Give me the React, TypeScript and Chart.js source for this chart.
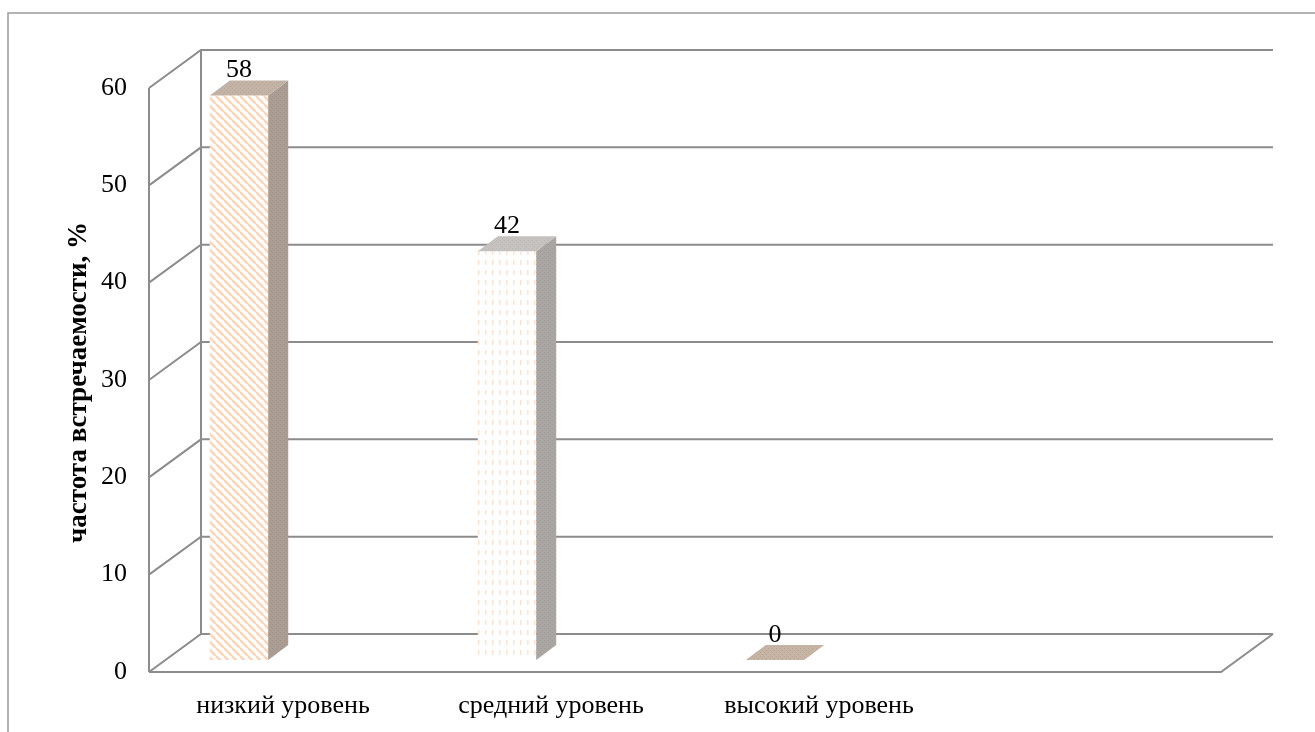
import React, { useEffect, useRef } from 'react';
import { Chart, registerables } from 'chart.js';

Chart.register(...registerables);

const categories = ['низкий уровень', 'средний уровень', 'высокий уровень', ''];
const values: (number | null)[] = [58, 42, 0, null];
const yMin = 0;
const yMax = 60;
const yStep = 10;
const yTitle = 'частота встречаемости, %';

const FONT = "'Liberation Serif', 'Times New Roman', serif";
const GRID = '#8c8c8c';
const DX = 52;
const DY = -38;
const BAR_DX = 20;
const BAR_DY = -15;
const SHIFT_X = -44;
const SHIFT_Y = -12;

function makePattern(kind: string): CanvasPattern | string {
  const c = document.createElement('canvas');
  const ctx = c.getContext('2d');
  if (!ctx) return '#fff';
  if (kind === 'stripes') {
    c.width = 8; c.height = 8;
    ctx.fillStyle = '#ffffff';
    ctx.fillRect(0, 0, 8, 8);
    ctx.strokeStyle = '#fcd4b6';
    ctx.lineWidth = 2.3;
    for (const o of [-8, 0, 8]) {
      ctx.beginPath();
      ctx.moveTo(o, 0);
      ctx.lineTo(o + 8, 8);
      ctx.stroke();
    }
  } else if (kind === 'dashes') {
    c.width = 7; c.height = 10;
    ctx.fillStyle = '#ffffff';
    ctx.fillRect(0, 0, 7, 10);
    ctx.fillStyle = '#fde3d1';
    ctx.fillRect(2, 0, 1.5, 5);
  } else {
    const [a, b] = kind.split('|');
    c.width = 4; c.height = 4;
    ctx.fillStyle = a;
    ctx.fillRect(0, 0, 4, 4);
    ctx.fillStyle = b;
    ctx.fillRect(0, 0, 1, 1);
    ctx.fillRect(2, 2, 1, 1);
  }
  return ctx.createPattern(c, 'repeat') || '#fff';
}

export default function App() {
  const ref = useRef<HTMLCanvasElement | null>(null);

  useEffect(() => {
    const canvas = ref.current;
    if (!canvas) return;

    const fronts = [makePattern('stripes'), makePattern('dashes'), makePattern('#c6b4a4|#b9a595'), '#fff'];
    const sides = [makePattern('#ab9d93|#9e9087'), makePattern('#aaa6a3|#9f9b98'), '#ab9d93', '#aaa'];
    const tops = [makePattern('#c3b3a6|#b8a89b'), makePattern('#c6c2bf|#bbb7b4'), makePattern('#c6b4a4|#b9a595'), '#ccc'];

    const wallsPlugin = {
      id: 'walls3d',
      beforeDatasetsDraw(chart: any) {
        const { ctx, chartArea } = chart;
        const { left, right, top, bottom } = chartArea;
        const ys = chart.scales.y;
        ctx.save();
        ctx.strokeStyle = '#9a9a9a';
        ctx.lineWidth = 1.5;
        ctx.beginPath();
        ctx.moveTo(8, chart.height);
        ctx.lineTo(8, 13);
        ctx.lineTo(chart.width, 13);
        ctx.stroke();

        ctx.strokeStyle = GRID;
        ctx.lineWidth = 2;
        ctx.beginPath();
        ctx.moveTo(left, top);
        ctx.lineTo(left, bottom);
        ctx.moveTo(left + DX, top + DY);
        ctx.lineTo(left + DX, bottom + DY);
        ctx.moveTo(left, bottom);
        ctx.lineTo(right, bottom);
        ctx.lineTo(right + DX, bottom + DY);
        for (let v = yMin; v <= yMax; v += yStep) {
          const y = ys.getPixelForValue(v);
          ctx.moveTo(left, y);
          ctx.lineTo(left + DX, y + DY);
          ctx.lineTo(right + DX, y + DY);
        }
        ctx.stroke();
        ctx.restore();
      },
    };

    const barsPlugin = {
      id: 'bars3d',
      afterDatasetsDraw(chart: any) {
        const { ctx } = chart;
        const meta = chart.getDatasetMeta(0);
        ctx.save();
        meta.data.forEach((el: any, i: number) => {
          const v = values[i];
          if (v === null || v === undefined) return;
          const p = el.getProps(['x', 'y', 'base', 'width'], true);
          const cx = p.x + SHIFT_X;
          const yt = p.y + SHIFT_Y;
          const yb = p.base + SHIFT_Y;
          const l = cx - p.width / 2;
          const r = cx + p.width / 2;
          if (yb - yt > 0.5) {
            ctx.fillStyle = fronts[i];
            ctx.fillRect(l, yt, r - l, yb - yt);
            ctx.fillStyle = sides[i];
            ctx.beginPath();
            ctx.moveTo(r, yt);
            ctx.lineTo(r + BAR_DX, yt + BAR_DY);
            ctx.lineTo(r + BAR_DX, yb + BAR_DY);
            ctx.lineTo(r, yb);
            ctx.closePath();
            ctx.fill();
          }
          ctx.fillStyle = tops[i];
          ctx.beginPath();
          ctx.moveTo(l, yt);
          ctx.lineTo(l + BAR_DX, yt + BAR_DY);
          ctx.lineTo(r + BAR_DX, yt + BAR_DY);
          ctx.lineTo(r, yt);
          ctx.closePath();
          ctx.fill();
          ctx.fillStyle = '#000';
          ctx.font = `26px ${FONT}`;
          ctx.textAlign = 'center';
          ctx.textBaseline = 'alphabetic';
          ctx.fillText(String(v), cx, yt + BAR_DY - 3);
        });
        ctx.restore();
      },
      afterDraw(chart: any) {
        const { ctx } = chart;
        ctx.save();
        ctx.translate(79, 222);
        ctx.rotate(-Math.PI / 2);
        ctx.fillStyle = '#000';
        ctx.font = `bold 27px ${FONT}`;
        ctx.textAlign = 'right';
        ctx.textBaseline = 'middle';
        ctx.fillText(yTitle, 0, 0);
        ctx.restore();
      },
    };

    const chart = new Chart(canvas, {
      type: 'bar',
      data: {
        labels: categories,
        datasets: [
          {
            data: values,
            backgroundColor: 'rgba(0,0,0,0)',
            borderWidth: 0,
            categoryPercentage: 1,
            barPercentage: 0.218,
          },
        ],
      },
      options: {
        animation: false,
        responsive: false,
        maintainAspectRatio: false,
        layout: { padding: { top: 88, right: 94, bottom: 0, left: 0 } },
        plugins: { legend: { display: false }, tooltip: { enabled: false }, title: { display: false } },
        scales: {
          x: {
            grid: { display: false, drawTicks: false },
            border: { display: false },
            ticks: { color: '#000', font: { family: FONT, size: 26 }, padding: 19, maxRotation: 0, autoSkip: false },
            afterFit: (s: any) => { s.height = 60; },
          },
          y: {
            min: yMin,
            max: yMax,
            grid: { display: false, drawTicks: false },
            border: { display: false },
            ticks: { stepSize: yStep, color: '#000', font: { family: FONT, size: 26 }, padding: 22 },
            afterFit: (s: any) => { s.width = 149; },
          },
        },
      },
      plugins: [wallsPlugin, barsPlugin],
    });
    return () => chart.destroy();
  }, []);

  return (
    <div style={{ position: 'absolute', left: 0, top: 0, width: 1315, height: 732, background: '#fff' }}>
      <canvas ref={ref} width={1315} height={732} style={{ width: 1315, height: 732, display: 'block' }} />
    </div>
  );
}
